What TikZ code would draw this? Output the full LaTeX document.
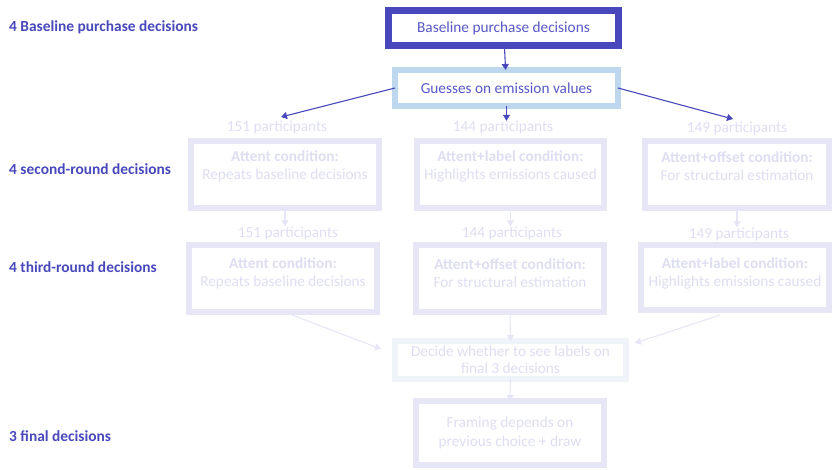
\documentclass[tikz,border=0pt]{standalone}
\usepackage{fontspec}
\setmainfont{Carlito}
\usetikzlibrary{arrows.meta}
\definecolor{dblue}{RGB}{72,72,188}
\definecolor{tblue}{RGB}{88,88,200}
\definecolor{lblue}{RGB}{189,215,238}
\definecolor{fade}{RGB}{230,230,246}
\definecolor{fadetxt}{RGB}{222,222,242}
\definecolor{vfade}{RGB}{240,243,250}
\tikzset{
  box/.style={draw, fill=white, inner sep=0pt, outer sep=0pt},
  fbox/.style={box, draw=fade, line width=6pt},
  rowlab/.style={anchor=west, text=dblue, font=\fontsize{15.4}{18}\selectfont\bfseries, inner sep=0pt},
  txt/.style={font=\fontsize{15.3}{18}\selectfont, inner sep=0pt, align=center},
  ftxt/.style={txt, text=fadetxt},
  arr/.style={draw=dblue, line width=1.1pt, -{Triangle[width=7pt,length=6pt]}},
  farr/.style={draw=fade, line width=1.1pt, -{Triangle[width=7pt,length=6pt]}},
}
\begin{document}
\begin{tikzpicture}[x=1pt,y=-1pt]
\useasboundingbox (0,0) rectangle (833,469);
% row labels
\node[rowlab] (l1) at (9,27) {4 Baseline purchase decisions};
\node[rowlab] (l2) at (9,169) {4 second-round decisions};
\node[rowlab] (l3) at (9,267) {4 third-round decisions};
\node[rowlab] (l4) at (9,436) {3 final decisions};
% top boxes
\node[box, draw=dblue, line width=7pt, minimum width=230pt, minimum height=35pt] (b1) at (503.5,28) {};
\node[txt, text=tblue] (t1) at (b1.center) {Baseline purchase decisions};
\node[box, draw=lblue, line width=6pt, minimum width=223pt, minimum height=36pt] (b2) at (506.5,88) {};
\node[txt, text=tblue] (t2) at (b2.center) {Guesses on emission values};
% participants row 1
\node[ftxt] (p1) at (277,127.5) {151 participants};
\node[ftxt] (p2) at (503,127.5) {144 participants};
\node[ftxt] (p3) at (737,128.5) {149 participants};
% row 1 boxes
\node[fbox, minimum width=188pt, minimum height=67pt] (r1a) at (285,174.5) {};
\node[fbox, minimum width=187pt, minimum height=67pt] (r1b) at (510.5,174.5) {};
\node[fbox, minimum width=184pt, minimum height=67pt] (r1c) at (737,174.5) {};
\node[ftxt] (r1at) at (285,166) {\textbf{Attent condition:}\\Repeats baseline decisions};
\node[ftxt] (r1bt) at (510.5,166) {\textbf{Attent+label condition:}\\Highlights emissions caused};
\node[ftxt] (r1ct) at (737,166) {\textbf{Attent+offset condition:}\\For structural estimation};
% participants row 2
\node[ftxt] (q1) at (288,233) {151 participants};
\node[ftxt] (q2) at (512,233) {144 participants};
\node[ftxt] (q3) at (739,234) {149 participants};
% row 2 boxes
\node[fbox, minimum width=188pt, minimum height=67pt] (r2a) at (283,278.5) {};
\node[fbox, minimum width=188pt, minimum height=67pt] (r2b) at (510,278.5) {};
\node[fbox, minimum width=188pt, minimum height=65pt] (r2c) at (735,277.5) {};
\node[ftxt] (r2at) at (283,273.5) {\textbf{Attent condition:}\\Repeats baseline decisions};
\node[ftxt] (r2bt) at (510,273.5) {\textbf{Attent+offset condition:}\\For structural estimation};
\node[ftxt] (r2ct) at (735,273.5) {\textbf{Attent+label condition:}\\Highlights emissions caused};
% decide box
\node[box, draw=vfade, line width=6pt, minimum width=231pt, minimum height=38pt] (dec) at (510.5,360) {};
\node[ftxt, font=\fontsize{15.3}{17}\selectfont] (dect) at (dec.center) {Decide whether to see labels on\\final 3 decisions};
% final box
\node[fbox, minimum width=188pt, minimum height=64pt] (fin) at (510,433) {};
\node[ftxt, font=\fontsize{15.3}{19}\selectfont] (fint) at (510,432.5) {Framing depends on\\previous choice + draw};
% connectors
\coordinate (a1) at (281,117);
\coordinate (a3) at (733,119);
\draw[arr] (b1) -- (b2);
\draw[arr] (b2.west) -- (a1);
\draw[arr] (b2.south) -- (b2.south |- p2.north);
\draw[arr] (b2.east) -- (a3);
\draw[farr] (r1a.south) -- (r1a.south |- q1.north);
\draw[farr] (r1b.south) -- (r1b.south |- q2.north);
\draw[farr] (r1c.south) -- (r1c.south |- q3.north);
\coordinate (s1) at (292,315);
\coordinate (e1) at (381,349);
\coordinate (s3) at (720,315);
\coordinate (e3) at (635,343);
\draw[farr] (s1) -- (e1);
\draw[farr] (r2b.south) -- (dec.north);
\draw[farr] (s3) -- (e3);
\draw[farr] (dec.south) -- (fin.north);
\end{tikzpicture}
\end{document}
